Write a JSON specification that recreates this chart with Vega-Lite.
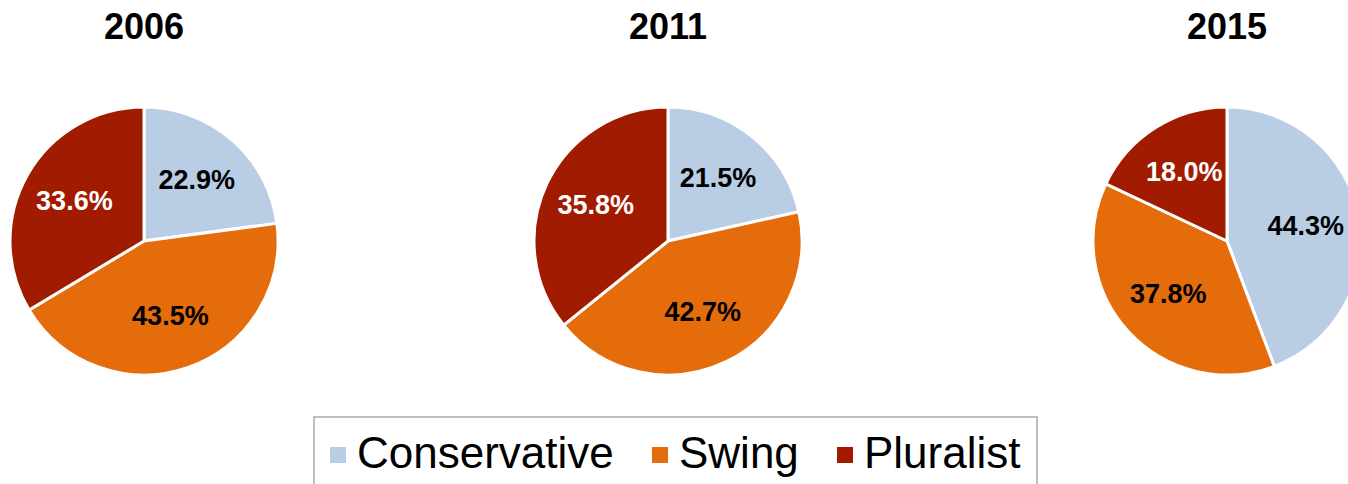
{
  "$schema": "https://vega.github.io/schema/vega-lite/v6.json",
  "padding": {"left": 0, "top": 10, "right": 0, "bottom": 0},
  "background": "white",
  "data": {"values": [
    {"year": 2006, "category": "Conservative", "share": 0.229},
    {"year": 2006, "category": "Swing", "share": 0.435},
    {"year": 2006, "category": "Pluralist", "share": 0.336},
    {"year": 2011, "category": "Conservative", "share": 0.215},
    {"year": 2011, "category": "Swing", "share": 0.427},
    {"year": 2011, "category": "Pluralist", "share": 0.358},
    {"year": 2015, "category": "Conservative", "share": 0.443},
    {"year": 2015, "category": "Swing", "share": 0.378},
    {"year": 2015, "category": "Pluralist", "share": 0.180}
  ]},
  "spacing": 0,
  "resolve": {"scale": {"color": "shared", "fill": "shared", "theta": "independent"}},
  "hconcat": [
    {
      "width": 288, "height": 378,
      "title": {"text": "2006", "offset": 5},
      "transform": [{"filter": "datum.year === 2006"}],
      "layer": [
        {"mark": {"type": "arc", "outerRadius": 134, "stroke": "white", "strokeWidth": 3},
         "encoding": {
           "theta": {"field": "share", "type": "quantitative", "stack": true},
           "order": {"field": "year", "type": "quantitative"},
           "color": {"field": "category", "type": "nominal", "sort": ["Conservative", "Swing", "Pluralist"],
             "scale": {"domain": ["Conservative", "Swing", "Pluralist"], "range": ["#B9CDE5", "#E46C0A", "#A11B00"]},
             "legend": {"orient": "none", "legendX": 314, "legendY": 365, "direction": "horizontal", "title": null}}
         }},
        {"mark": {"type": "text", "radius": 80, "font": "Liberation Sans", "fontSize": 27, "fontWeight": "bold"},
         "encoding": {
           "theta": {"field": "share", "type": "quantitative", "stack": true},
           "order": {"field": "year", "type": "quantitative"},
           "fill": {"field": "category", "type": "nominal", "sort": ["Conservative", "Swing", "Pluralist"],
             "scale": {"domain": ["Conservative", "Swing", "Pluralist"], "range": ["black", "black", "white"]}, "legend": null},
           "text": {"field": "share", "type": "quantitative", "format": ".1%"}
         }}
      ]
    },
    {
      "width": 760, "height": 378,
      "title": {"text": "2011", "offset": 5},
      "transform": [{"filter": "datum.year === 2011"}],
      "layer": [
        {"mark": {"type": "arc", "outerRadius": 134, "stroke": "white", "strokeWidth": 3},
         "encoding": {
           "theta": {"field": "share", "type": "quantitative", "stack": true},
           "order": {"field": "year", "type": "quantitative"},
           "color": {"field": "category", "type": "nominal", "sort": ["Conservative", "Swing", "Pluralist"],
             "scale": {"domain": ["Conservative", "Swing", "Pluralist"], "range": ["#B9CDE5", "#E46C0A", "#A11B00"]}}
         }},
        {"mark": {"type": "text", "radius": 80, "font": "Liberation Sans", "fontSize": 27, "fontWeight": "bold"},
         "encoding": {
           "theta": {"field": "share", "type": "quantitative", "stack": true},
           "order": {"field": "year", "type": "quantitative"},
           "fill": {"field": "category", "type": "nominal", "sort": ["Conservative", "Swing", "Pluralist"],
             "scale": {"domain": ["Conservative", "Swing", "Pluralist"], "range": ["black", "black", "white"]}, "legend": null},
           "text": {"field": "share", "type": "quantitative", "format": ".1%"}
         }}
      ]
    },
    {
      "width": 358, "height": 378,
      "title": {"text": "2015", "offset": 5},
      "transform": [{"filter": "datum.year === 2015"}],
      "layer": [
        {"mark": {"type": "arc", "outerRadius": 134, "stroke": "white", "strokeWidth": 3},
         "encoding": {
           "theta": {"field": "share", "type": "quantitative", "stack": true},
           "order": {"field": "year", "type": "quantitative"},
           "color": {"field": "category", "type": "nominal", "sort": ["Conservative", "Swing", "Pluralist"],
             "scale": {"domain": ["Conservative", "Swing", "Pluralist"], "range": ["#B9CDE5", "#E46C0A", "#A11B00"]}}
         }},
        {"mark": {"type": "text", "radius": 80, "font": "Liberation Sans", "fontSize": 27, "fontWeight": "bold"},
         "encoding": {
           "theta": {"field": "share", "type": "quantitative", "stack": true},
           "order": {"field": "year", "type": "quantitative"},
           "fill": {"field": "category", "type": "nominal", "sort": ["Conservative", "Swing", "Pluralist"],
             "scale": {"domain": ["Conservative", "Swing", "Pluralist"], "range": ["black", "black", "white"]}, "legend": null},
           "text": {"field": "share", "type": "quantitative", "format": ".1%"}
         }}
      ]
    }
  ],
  "config": {
    "view": {"stroke": null},
    "title": {"font": "Liberation Sans", "fontSize": 36, "fontWeight": "bold", "color": "black", "anchor": "middle", "baseline": "alphabetic"},
    "legend": {
      "labelFont": "Liberation Sans", "labelFontSize": 44, "labelColor": "black", "labelLimit": 0,
      "symbolType": "square", "symbolSize": 256, "symbolStrokeWidth": 0, "symbolOffset": -14, "labelOffset": -3,
      "columnPadding": 38, "padding": 16, "strokeColor": "#ABABAB", "strokeWidth": 1.5
    }
  }
}
